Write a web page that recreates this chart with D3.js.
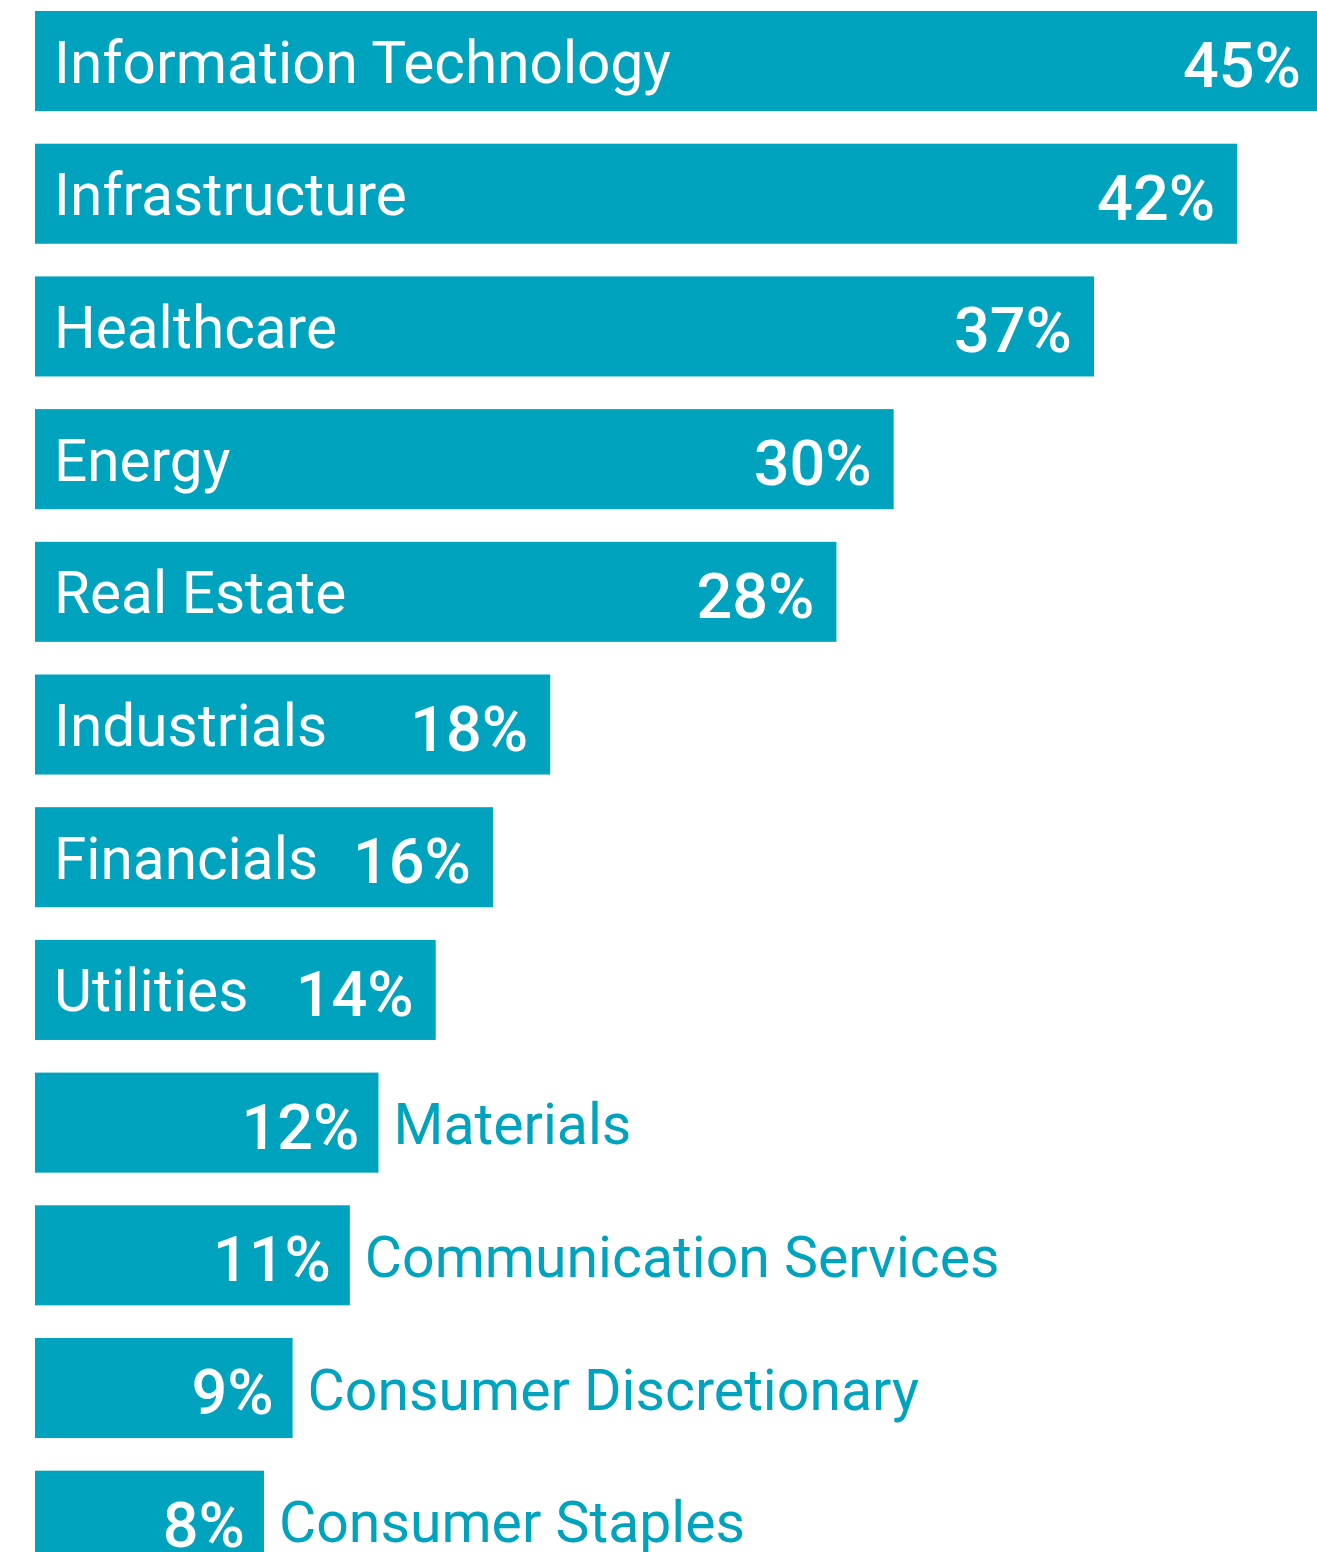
<!DOCTYPE html>
<html><head><meta charset="utf-8">
<script src="https://cdn.jsdelivr.net/npm/d3@7/dist/d3.min.js"></script>
<style>html,body{margin:0;padding:0;background:#fff;overflow:hidden}</style>
</head><body>
<svg id="chart" width="1317" height="1552"></svg>
<script>
const categories = ["Information Technology","Infrastructure","Healthcare","Energy","Real Estate","Industrials","Financials","Utilities","Materials","Communication Services","Consumer Discretionary","Consumer Staples"];
const values = [45,42,37,30,28,18,16,14,12,11,9,8];
const insideThreshold = 14;

const color = "#00A3BE";
const svg = d3.select("#chart");
const left = 35;
const x = d3.scaleLinear().domain([0,45]).range([left, left + 1288]);
const step = 132.7, pad = 0.246;
const y = d3.scaleBand().domain(categories).range([11, 11 + step*(categories.length - pad)]).paddingInner(pad).paddingOuter(0);
const fsCat = 58.5, fsOut = 57.2, fsVal = 63;

const data = categories.map((c,i)=>({c, v: values[i]}));
const g = svg.append("g");
g.selectAll("rect").data(data).join("rect")
  .attr("x", x(0)).attr("y", d=>y(d.c))
  .attr("width", d=>x(d.v)-x(0)).attr("height", y.bandwidth())
  .attr("fill", color);

const font = "Roboto, 'Noto Sans', sans-serif";
g.selectAll("text.val").data(data).join("text").attr("class","val")
  .attr("x", d=>x(d.v) - (d.v>=insideThreshold?22:19))
  .attr("y", d=>y(d.c)+y.bandwidth()/2+26)
  .attr("text-anchor","end").attr("fill","#fff")
  .style("font-family",font).style("font-size",fsVal+"px").style("font-weight",500)
  .text(d=>d.v+"%");
g.selectAll("text.cat").data(data).join("text").attr("class","cat")
  .attr("x", d=> d.v>=insideThreshold ? left+19 : x(d.v)+15)
  .attr("y", d=>y(d.c)+y.bandwidth()/2+21.5)
  .attr("text-anchor","start").attr("fill", d=> d.v>=insideThreshold ? "#fff" : color)
  .style("font-family",font).style("font-size",d=>(d.v>=insideThreshold?fsCat:fsOut)+"px").style("font-weight",400)
  .text(d=>d.c);
</script>
</body></html>
